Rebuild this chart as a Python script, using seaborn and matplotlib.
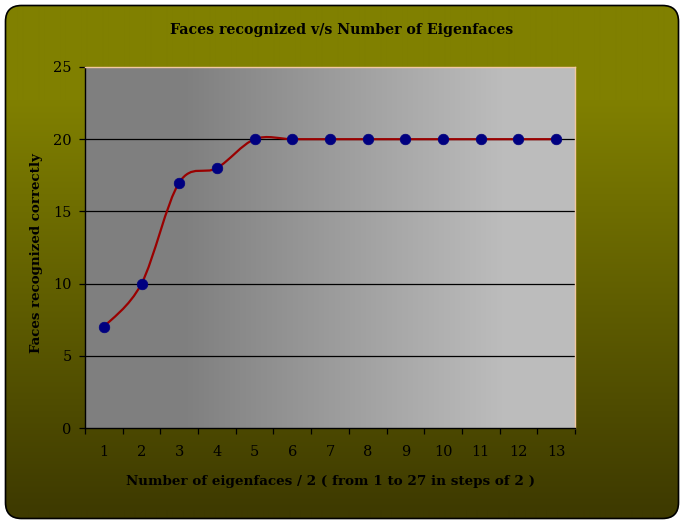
import numpy as np
import matplotlib
matplotlib.use("Agg")
import matplotlib.pyplot as plt
import seaborn as sns
import pandas as pd
from matplotlib.patches import FancyBboxPatch, PathPatch
from matplotlib.path import Path

# ---- data ----
categories = list(range(1, 14))
faces = [7, 10, 17, 18, 20, 20, 20, 20, 20, 20, 20, 20, 20]
yticks = [0, 5, 10, 15, 20, 25]
title = "Faces recognized v/s Number of Eigenfaces"
xlabel = "Number of eigenfaces / 2 ( from 1 to 27 in steps of 2 )"
ylabel = "Faces recognized correctly"

sns.set_theme(style="white")
plt.rcParams['font.family'] = ['DejaVu Serif', 'DejaVu Sans']

W, H = 684, 524
fig = plt.figure(figsize=(W / 100, H / 100), dpi=100, facecolor='white')

# ---- outer background with vertical olive gradient and rounded border ----
bg = fig.add_axes([0, 0, 1, 1], zorder=-10)
bg.set_xlim(0, W)
bg.set_ylim(H, 0)
bg.axis('off')
ys = np.arange(H)
t = np.clip((ys - 100) / (510 - 100), 0, 1)
top = np.array([128, 128, 0]) / 255
bot = np.array([62, 58, 0]) / 255
grad = top[None, :] * (1 - t[:, None]) + bot[None, :] * t[:, None]
img = np.repeat(grad[:, None, :], 2, axis=1)
im = bg.imshow(img, extent=(0, W, H, 0), aspect='auto', interpolation='bilinear')
box = FancyBboxPatch((5.5, 5.5), 673, 513, boxstyle="round,pad=0,rounding_size=16",
                     fc='none', ec='black', lw=1.2)
bg.add_patch(box)
im.set_clip_path(box)

# ---- plot area ----
ax = fig.add_axes([85 / W, 1 - 428 / H, 490 / W, 361 / H])
ax.set_facecolor('none')
cols = np.arange(490)
g = np.clip((cols - 100) / (420 - 100), 0, 1)
gray = 0.50 + (0.74 - 0.50) * g
pimg = np.repeat(np.stack([gray, gray, gray], axis=-1)[None, :, :], 2, axis=0)
ax.imshow(pimg, extent=(0.5, 13.5, 0, 25), aspect='auto', interpolation='bilinear', zorder=0)

ax.set_xlim(0.5, 13.5)
ax.set_ylim(0, 25)

for yv in yticks[1:-1]:
    ax.axhline(yv, color='black', lw=0.9, zorder=1)

# smoothed line (Excel-style Bezier through the data points)
df = pd.DataFrame({'n': categories, 'faces': faces})
x = np.array(categories, float)
y = np.array(faces, float)
verts = [(x[0], y[0])]
codes = [Path.MOVETO]
n = len(x)
for i in range(n - 1):
    p0 = np.array([x[max(i - 1, 0)], y[max(i - 1, 0)]])
    p1 = np.array([x[i], y[i]])
    p2 = np.array([x[i + 1], y[i + 1]])
    p3 = np.array([x[min(i + 2, n - 1)], y[min(i + 2, n - 1)]])
    c1 = p1 + (p2 - p0) / 6
    c2 = p2 - (p3 - p1) / 6
    verts += [tuple(c1), tuple(c2), tuple(p2)]
    codes += [Path.CURVE4] * 3
ax.add_patch(PathPatch(Path(verts, codes), fc='none', ec='#990000', lw=1.6, zorder=3))

sns.scatterplot(data=df, x='n', y='faces', color='#000080', s=58, edgecolor='#000080',
                linewidth=0.5, zorder=4, ax=ax, legend=False)

# spines
for s in ['left', 'bottom']:
    ax.spines[s].set_color('black')
    ax.spines[s].set_linewidth(1.0)
for s in ['top', 'right']:
    ax.spines[s].set_color('#f2c8a0')
    ax.spines[s].set_linewidth(1.0)
for s in ax.spines.values():
    s.set_zorder(5)

ax.set_yticks(yticks)
ax.set_yticklabels([str(v) for v in yticks])
ax.tick_params(axis='y', which='major', direction='out', length=4.5, width=0.9,
               color='black', labelcolor='black', labelsize=10.5, pad=5, left=True)
ax.set_xticks(categories)
ax.set_xticklabels([str(c) for c in categories])
ax.set_xticks(np.arange(0.5, 14, 1), minor=True)
ax.tick_params(axis='x', which='major', length=0, labelsize=10.5, pad=12, labelcolor='black')
ax.tick_params(axis='x', which='minor', direction='out', length=4.5, width=0.9,
               color='black', bottom=True)
ax.set_xlabel('')
ax.set_ylabel('')

fig.text(342 / W, 1 - 30 / H, title, ha='center', va='center', fontsize=10.2,
         fontweight='bold', color='black')
fig.text(330 / W, 1 - 482 / H, xlabel, ha='center', va='center', fontsize=9.7,
         fontweight='bold', color='black')
fig.text(37 / W, 1 - 253 / H, ylabel, ha='center', va='center', fontsize=9.6,
         fontweight='bold', color='black', rotation=90)

fig.savefig('out.png', dpi=100, facecolor='white')
